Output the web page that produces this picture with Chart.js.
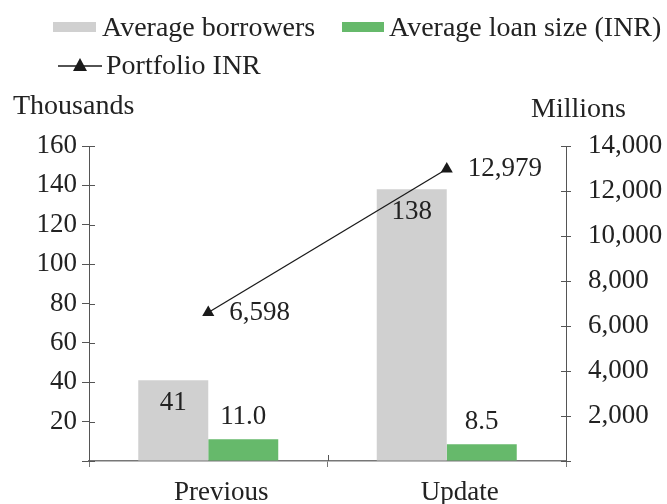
<!DOCTYPE html>
<html>
<head>
<meta charset="utf-8">
<script src="https://cdn.jsdelivr.net/npm/chart.js@4.4.1/dist/chart.umd.min.js"></script>
<style>
  body { margin: 0; background: #fff; }
</style>
</head>
<body>
<canvas id="chart" width="667" height="504"></canvas>
<script>
// data
const categories = ['Previous', 'Update'];
const avgBorrowers = [41, 138];        // thousands
const avgLoanSize = [11.0, 8.5];       // thousands INR
const portfolioINR = [6598, 12979];    // millions

const FONT = "'Liberation Serif', 'DejaVu Serif', serif";
const TEXT = '#222';
const GRAY = '#d0d0d0';
const GREEN = '#66b96b';
const AXIS = '#555';

const fmt = v => v.toLocaleString('en-US');

// value labels, inner tick halves, axis unit titles and the legend
const extras = {
  id: 'extras',
  afterDatasetsDraw(chart) {
    const ctx = chart.ctx;
    ctx.save();
    ctx.font = '27px ' + FONT;
    ctx.fillStyle = TEXT;
    ctx.textBaseline = 'middle';

    // gray bars: label inside near top
    ctx.textAlign = 'center';
    chart.getDatasetMeta(1).data.forEach((b, i) => {
      ctx.fillText(String(avgBorrowers[i]), b.x, b.y + 23);
    });
    // green bars: label above
    chart.getDatasetMeta(2).data.forEach((b, i) => {
      ctx.fillText(avgLoanSize[i].toFixed(1), b.x, b.y - 22);
    });
    // line points: label to the right
    ctx.textAlign = 'left';
    chart.getDatasetMeta(0).data.forEach((p, i) => {
      ctx.fillText(fmt(portfolioINR[i]), p.x + 21, p.y);
    });
    ctx.restore();
  },
  afterDraw(chart) {
    const ctx = chart.ctx;
    const { y, y1 } = chart.scales;
    const area = chart.chartArea;
    ctx.save();
    ctx.lineWidth = 1;
    ctx.strokeStyle = AXIS;
    ctx.beginPath();
    y.ticks.forEach(t => {
      const py = Math.round(y.getPixelForValue(t.value)) + 0.5;
      ctx.moveTo(area.left, py); ctx.lineTo(area.left + 6, py);
    });
    y1.ticks.forEach(t => {
      const py = Math.round(y1.getPixelForValue(t.value)) + 0.5;
      ctx.moveTo(area.right - 5, py); ctx.lineTo(area.right, py);
    });
    const mid = Math.round((area.left + area.right) / 2) + 0.5;
    ctx.moveTo(mid, area.bottom); ctx.lineTo(mid, area.bottom - 6);
    ctx.stroke();

    ctx.font = '28px ' + FONT;
    ctx.fillStyle = TEXT;
    ctx.textBaseline = 'alphabetic';
    ctx.textAlign = 'left';
    ctx.fillText('Thousands', 13, 114);
    ctx.fillText('Millions', 531, 117);

    // legend
    ctx.fillStyle = GRAY;
    ctx.fillRect(53, 22, 43, 10);
    ctx.fillStyle = GREEN;
    ctx.fillRect(342, 22, 42, 10);
    ctx.strokeStyle = '#1a1a1a';
    ctx.lineWidth = 1.5;
    ctx.beginPath();
    ctx.moveTo(58, 66); ctx.lineTo(102, 66);
    ctx.stroke();
    ctx.fillStyle = '#1a1a1a';
    ctx.beginPath();
    ctx.moveTo(80, 58); ctx.lineTo(87, 71); ctx.lineTo(73, 71); ctx.closePath();
    ctx.fill();
    ctx.fillStyle = TEXT;
    ctx.fillText('Average borrowers', 102, 36);
    ctx.fillText('Average loan size (INR)', 389, 36);
    ctx.fillText('Portfolio INR', 106, 74);
    ctx.restore();
  }
};

function draw() {
  new Chart(document.getElementById('chart'), {
    type: 'bar',
    data: {
      labels: categories,
      datasets: [
        {
          type: 'line',
          label: 'Portfolio INR',
          data: portfolioINR,
          yAxisID: 'y1',
          borderColor: '#1a1a1a',
          backgroundColor: '#1a1a1a',
          borderWidth: 1.3,
          pointStyle: 'triangle',
          pointRadius: 7,
          pointBorderWidth: 0,
          order: 0,
        },
        {
          label: 'Average borrowers',
          data: avgBorrowers,
          backgroundColor: GRAY,
          yAxisID: 'y',
          order: 1,
        },
        {
          label: 'Average loan size (INR)',
          data: avgLoanSize,
          backgroundColor: GREEN,
          yAxisID: 'y',
          order: 1,
        },
      ],
    },
    options: {
      responsive: false,
      animation: false,
      layout: { padding: { top: 146, left: 0, right: 0, bottom: 0 } },
      datasets: {
        bar: { barPercentage: 1, categoryPercentage: 0.587 },
      },
      plugins: {
        legend: { display: false },
        tooltip: { enabled: false },
      },
      scales: {
        x: {
          grid: { display: true, drawOnChartArea: false, offset: true, tickLength: 6, color: '#777' },
          border: { color: '#777', width: 1.5 },
          ticks: { font: { family: FONT, size: 27 }, color: TEXT, padding: 10, labelOffset: 13 },
          afterFit: s => { s.height = 43; },
        },
        y: {
          position: 'left',
          min: 0,
          max: 160,
          grid: { drawOnChartArea: false, tickLength: 7, color: AXIS },
          border: { color: AXIS },
          ticks: {
            stepSize: 20,
            font: { family: FONT, size: 27 },
            color: TEXT,
            padding: 5,
            callback: v => (v === 0 ? '' : v),
          },
          afterFit: s => { s.width = 89; },
        },
        y1: {
          position: 'right',
          min: 0,
          max: 14000,
          grid: { drawOnChartArea: false, tickLength: 5, color: AXIS },
          border: { color: AXIS },
          ticks: {
            stepSize: 2000,
            font: { family: FONT, size: 27 },
            color: TEXT,
            padding: 17,
            callback: v => (v === 0 ? '' : fmt(v)),
          },
          afterFit: s => { s.width = 101; },
        },
      },
    },
    plugins: [extras],
  });
}

document.fonts.load("27px 'Liberation Serif'").then(draw, draw);
</script>
</body>
</html>
